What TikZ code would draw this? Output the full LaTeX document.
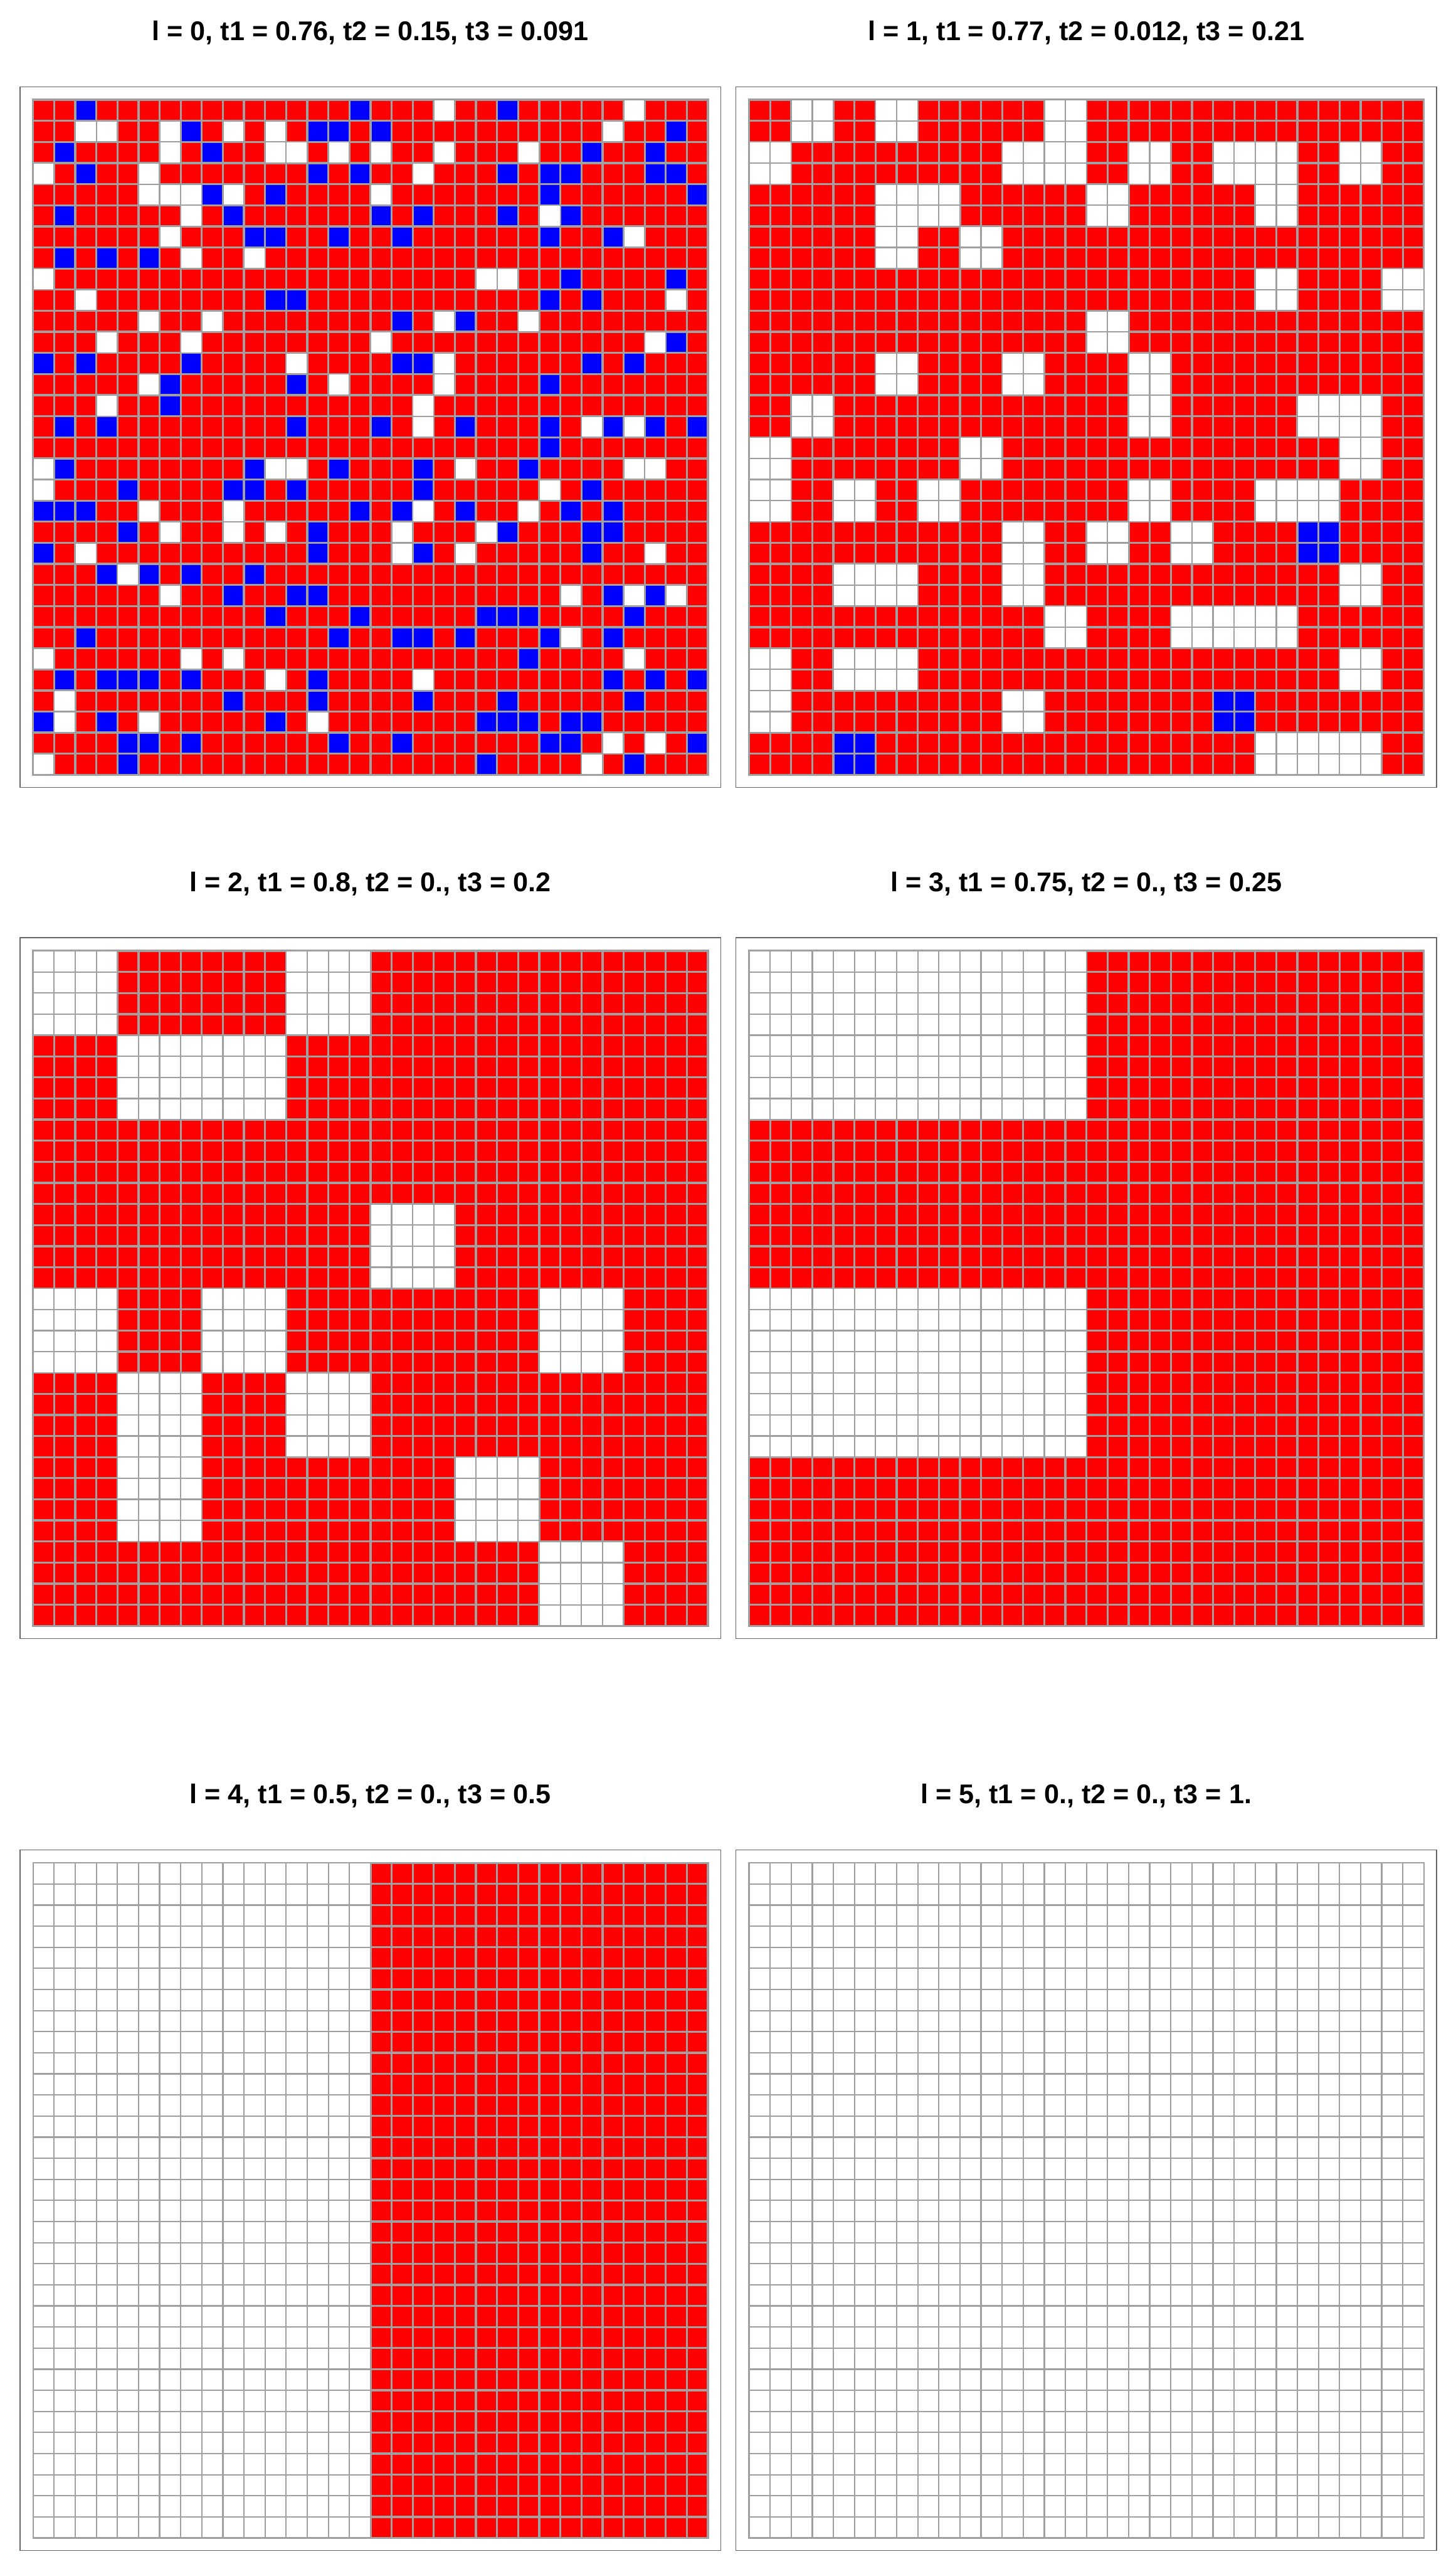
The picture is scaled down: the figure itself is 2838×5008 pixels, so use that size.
\documentclass[tikz,border=0pt]{standalone}
\usepackage{fontspec}
\setmainfont{Liberation Sans}

\definecolor{cellred}{RGB}{255,0,0}
\definecolor{cellblue}{RGB}{0,0,255}
\definecolor{gridgray}{RGB}{160,160,160}
\definecolor{framegray}{RGB}{102,102,102}

\begin{document}
\begin{tikzpicture}[
    x=0.01cm, y=-0.01cm,
    frame/.style={draw=framegray, line width=0.45pt},
    gline/.style={draw=gridgray, line width=0.77pt, line cap=rect},
    cline/.style={draw=gridgray, line width=1.14pt, line cap=rect},
    title/.style={anchor=base, font=\bfseries\fontsize{15pt}{18pt}\selectfont},
    cellunit/.style={x=0.411cm, y=-0.411cm}
]
    \useasboundingbox (0,0) rectangle (2838,5008);

    % l = 0
    \begin{scope}[shift={(64.5,194.5)}, cellunit]
        \fill[cellred] (0,0) rectangle (32,32);
        \foreach \r/\cl in {0/{2,15,22}, 1/{7,13,14,16,30}, 2/{1,8,26,29},
            3/{2,13,15,22,24,25,29,30}, 4/{8,11,24,31}, 5/{1,9,16,18,22,25},
            6/{10,11,14,17,24,27}, 7/{1,3,5}, 8/{25,30}, 9/{11,12,24,26},
            10/{17,20}, 11/{30}, 12/{0,2,7,17,18,26,28}, 13/{6,12,24}, 14/{6},
            15/{1,3,12,16,20,24,27,29,31}, 16/{24}, 17/{1,10,14,18,23},
            18/{4,9,10,12,18,26}, 19/{0,1,2,15,17,20,25,27}, 20/{4,13,22,26,27},
            21/{0,13,18,26}, 22/{3,5,7,10}, 23/{9,12,13,27,29},
            24/{11,15,21,22,23,28}, 25/{2,14,17,18,20,24,27}, 26/{23},
            27/{1,3,4,5,7,13,27,29,31}, 28/{9,13,18,22,28},
            29/{0,3,11,21,22,23,25,26}, 30/{4,5,7,14,17,24,25,31}, 31/{4,21,28}} {
            \foreach \c in \cl {\fill[cellblue] (\c,\r) rectangle ++(1,1);}
        }
        \foreach \i in {0,...,32} {
            \draw[cline] (\i,0) -- (\i,32);
            \draw[cline] (0,\i) -- (32,\i);
        }
        \foreach \r/\cl in {0/{19,28}, 1/{2,3,6,9,11,27}, 2/{6,11,12,14,16,19,23},
            3/{0,5,18}, 4/{5,6,7,9,16}, 5/{7,24}, 6/{6,28}, 7/{7,10}, 8/{0,21,22},
            9/{2,30}, 10/{5,8,19,23}, 11/{3,7,16,29}, 12/{12,19}, 13/{5,14,19},
            14/{3,18}, 15/{18,26,28}, 17/{0,11,12,20,28,29}, 18/{0,24},
            19/{5,9,18,23}, 20/{6,9,11,17,21}, 21/{2,17,20,29}, 22/{4},
            23/{6,25,28,30}, 25/{25}, 26/{0,7,9,28}, 27/{11,18}, 28/{1},
            29/{1,5,13}, 30/{27,29}, 31/{0,26}} {
            \foreach \c in \cl {\fill[white] (\c,\r) rectangle ++(1,1);}
        }
    \end{scope}

    % l = 1
    \begin{scope}[shift={(1460.5,194.5)}, cellunit]
        \fill[cellred] (0,0) rectangle (32,32);
        \foreach \r/\c in {10/13, 14/11, 15/2} {
            \fill[cellblue] (2*\c,2*\r) rectangle ++(2,2);
        }
        \foreach \i in {0,...,32} {
            \draw[cline] (\i,0) -- (\i,32);
            \draw[cline] (0,\i) -- (32,\i);
        }
        \foreach \r/\cl in {0/{1,3,7}, 1/{0,6,7,9,11,12,14}, 2/{3,4,8,12}, 3/{3,5},
            4/{12,15}, 5/{8}, 6/{3,6,9}, 7/{1,9,13,14}, 8/{0,5,14},
            9/{0,2,4,9,12,13}, 10/{6,8,10}, 11/{2,3,6,14}, 12/{7,10,11,12},
            13/{0,2,3,14}, 14/{0,6}, 15/{12,13,14}} {
            \foreach \c in \cl {\fill[white] (2*\c,2*\r) rectangle ++(2,2);}
        }
    \end{scope}

    % l = 2
    \begin{scope}[shift={(64.5,1853.5)}, cellunit]
        \fill[cellred] (0,0) rectangle (32,32);
        \foreach \i in {0,...,32} {
            \draw[cline] (\i,0) -- (\i,32);
            \draw[cline] (0,\i) -- (32,\i);
        }
        \foreach \r/\cl in {0/{0,3}, 1/{1,2}, 3/{4}, 4/{0,2,6}, 5/{1,3}, 6/{1,5}, 7/{6}} {
            \foreach \c in \cl {\fill[white] (4*\c,4*\r) rectangle ++(4,4);}
        }
    \end{scope}

    % l = 3
    \begin{scope}[shift={(1460.5,1853.5)}, cellunit]
        \fill[cellred] (0,0) rectangle (32,32);
        \foreach \i in {0,...,32} {
            \draw[cline] (\i,0) -- (\i,32);
            \draw[cline] (0,\i) -- (32,\i);
        }
        \fill[white] (0,0) rectangle (16,8);
        \fill[white] (0,16) rectangle (16,24);
    \end{scope}

    % l = 4
    \begin{scope}[shift={(64.5,3631.5)}, cellunit]
        \fill[cellred] (16,0) rectangle (32,32);
        \foreach \i in {16,...,32} {\draw[cline] (\i,0) -- (\i,32);}
        \foreach \i in {0,...,32} {\draw[cline] (16,\i) -- (32,\i);}
        \fill[white] (0,0) rectangle (16,32);
    \end{scope}

    % frames, titles and cell lines
    \foreach \n/\px/\py/\txt in {
        0/39/169/{l = 0, t1 = 0.76, t2 = 0.15, t3 = 0.091},
        1/1435/169/{l = 1, t1 = 0.77, t2 = 0.012, t3 = 0.21},
        2/39/1828/{l = 2, t1 = 0.8, t2 = 0., t3 = 0.2},
        3/1435/1828/{l = 3, t1 = 0.75, t2 = 0., t3 = 0.25},
        4/39/3606/{l = 4, t1 = 0.5, t2 = 0., t3 = 0.5},
        5/1435/3606/{l = 5, t1 = 0., t2 = 0., t3 = 1.}} {
        \draw[frame] (\px,\py) rectangle ++(1366,1366);
        \node[title] (title\n) at (\px+683,\py-90) {\txt};
        \begin{scope}[shift={(\px+25.5,\py+25.5)}, cellunit]
            \foreach \i in {0,...,32} {
                \draw[gline] (\i,0) -- (\i,32);
                \draw[gline] (0,\i) -- (32,\i);
            }
        \end{scope}
    }
\end{tikzpicture}
\end{document}
